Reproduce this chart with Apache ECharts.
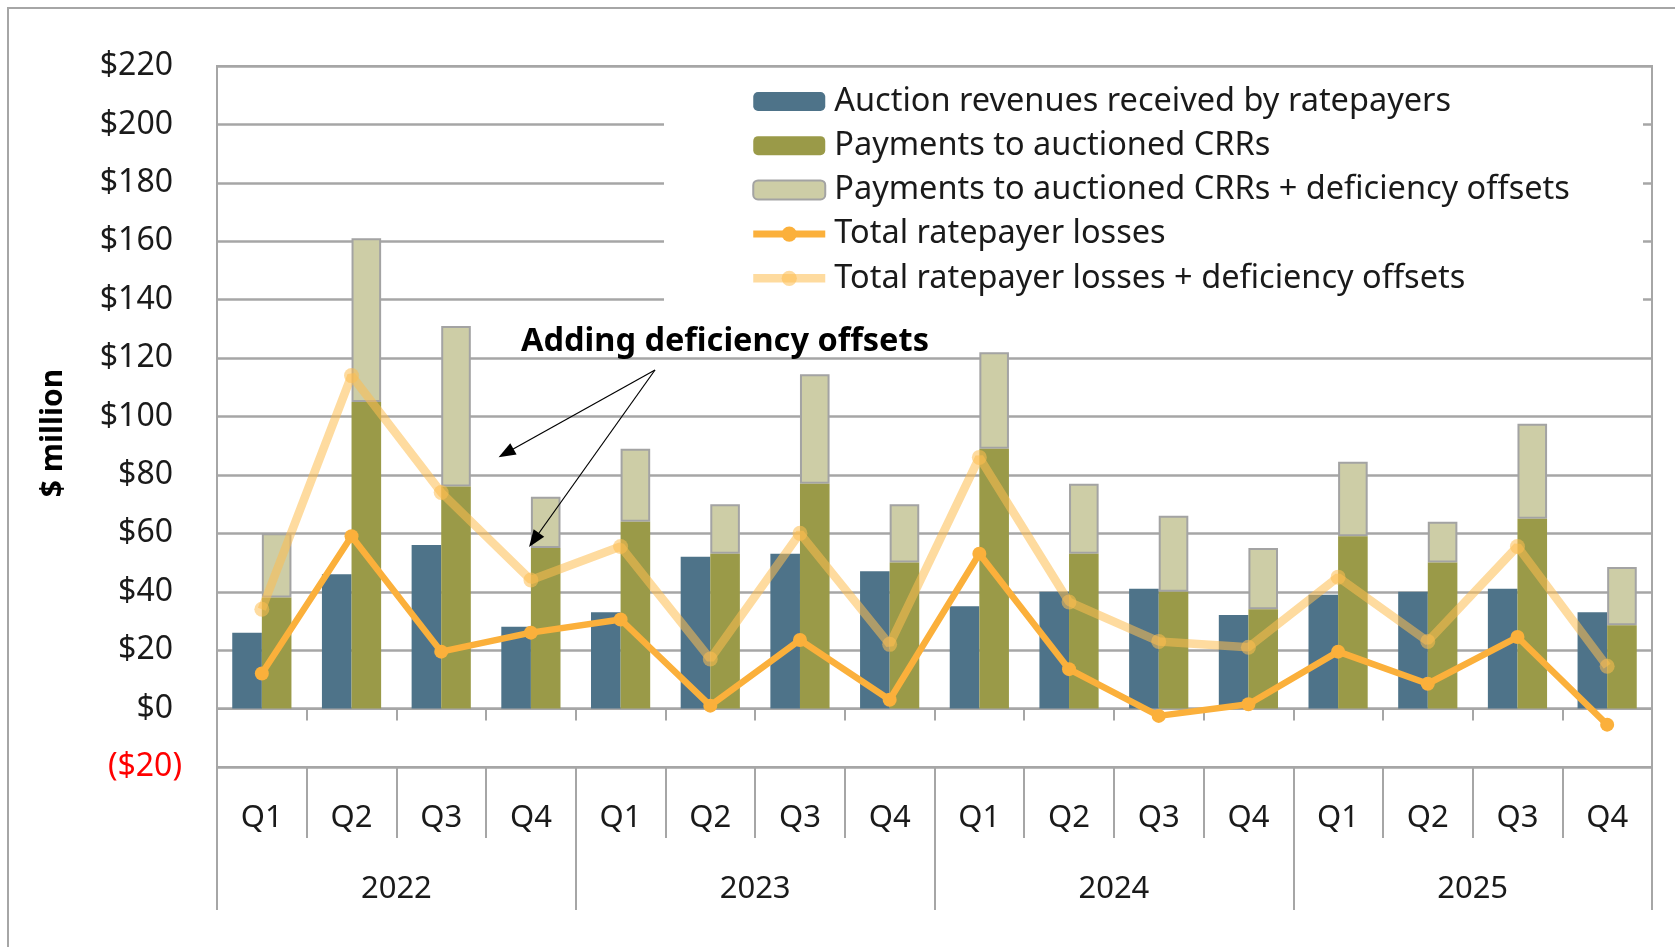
<!DOCTYPE html>
<html>
<head>
<meta charset="utf-8">
<title>CRR auction revenues and ratepayer losses</title>
<script src="https://cdn.jsdelivr.net/npm/echarts@6/dist/echarts.min.js"></script>
<style>
html, body { margin: 0; padding: 0; background: #fff; }
#chart { width: 1675px; height: 947px; }
</style>
</head>
<body>
<div id="chart"></div>
<script>
var years = ['2022', '2023', '2024', '2025'];
var quarters = ['Q1', 'Q2', 'Q3', 'Q4'];

// $ million, one value per quarter 2022 Q1 .. 2025 Q4
var auctionRevenues = [26, 46, 56, 28, 33, 52, 53, 47, 35, 40, 41, 32, 39, 40, 41, 33];
var crrPayments = [38, 105, 76, 55, 64, 53, 77, 50, 89, 53, 40, 34, 59, 50, 65, 28.5];
var crrPaymentsWithOffsets = [60, 161, 131, 72.5, 89, 70, 114.5, 70, 122, 77, 66, 55, 84.5, 64, 97.5, 48.5];
var ratepayerLosses = [12, 59, 19.5, 26, 30.5, 1, 23.5, 3, 53, 13.5, -2.5, 1.5, 19.5, 8.5, 24.5, -5.5];
var lossesWithOffsets = [34, 114, 74, 44, 55.5, 17, 60, 22, 86, 36.5, 23, 21, 45, 23, 55.5, 14.5];

var FONT = '"Noto Sans", "Open Sans", sans-serif';
var GRID_GRAY = '#a6a6a6';
var TEXT = '#1a1a1a';
var ORANGE = '#fbb03b';
var ORANGE_LIGHT = 'rgba(253,190,80,0.55)';

var quarterLabels = [];
years.forEach(function () {
  quarters.forEach(function (q) { quarterLabels.push(q); });
});

// light bar is drawn as the part stacked on top of the CRR payments
var offsetPart = crrPaymentsWithOffsets.map(function (v, i) {
  return Math.round((v - crrPayments[i]) * 10) / 10;
});

var chart = echarts.init(document.getElementById('chart'));

var option = {
  animation: false,
  backgroundColor: '#fff',
  grid: {
    left: 217, right: 23, top: 66, bottom: 180,
    show: true, borderColor: GRID_GRAY, borderWidth: 2
  },
  legend: {
    orient: 'vertical',
    left: 749,
    top: 85,
    padding: 0,
    itemWidth: 72,
    itemHeight: 19,
    itemGap: 11.2,
    textStyle: { fontFamily: FONT, fontSize: 32.5, lineHeight: 32, color: TEXT, padding: [0, 0, 0, 4] },
    data: [
      { name: 'Auction revenues received by ratepayers' },
      { name: 'Payments to auctioned CRRs' },
      { name: 'Payments to auctioned CRRs + deficiency offsets' },
      { name: 'Total ratepayer losses', lineStyle: { width: 7, color: ORANGE } },
      { name: 'Total ratepayer losses + deficiency offsets', lineStyle: { width: 8.5, color: ORANGE_LIGHT } }
    ]
  },
  xAxis: [
    {
      type: 'category',
      data: quarterLabels,
      position: 'bottom',
      axisLine: { show: true, onZero: false, lineStyle: { color: GRID_GRAY, width: 2 } },
      axisTick: { show: true, length: 71, interval: 0, lineStyle: { color: GRID_GRAY, width: 2 } },
      axisLabel: { interval: 0, margin: 36, fontFamily: FONT, fontSize: 31, color: TEXT },
      splitLine: { show: false }
    },
    {
      type: 'category',
      data: years,
      position: 'bottom',
      axisLine: { show: false, onZero: false },
      axisTick: { show: true, length: 143, interval: 0, lineStyle: { color: GRID_GRAY, width: 2 } },
      axisLabel: { interval: 0, margin: 107, fontFamily: FONT, fontSize: 31, color: TEXT },
      splitLine: { show: false }
    },
    {
      // short ticks hanging off the $0 line
      type: 'category',
      data: quarterLabels,
      position: 'bottom',
      axisLine: { show: true, onZero: true, lineStyle: { color: GRID_GRAY, width: 2 } },
      axisTick: { show: true, length: 12, interval: 0, lineStyle: { color: GRID_GRAY, width: 2 } },
      axisLabel: { show: false },
      splitLine: { show: false }
    }
  ],
  yAxis: {
    type: 'value',
    min: -20,
    max: 220,
    interval: 20,
    axisLine: { show: true, lineStyle: { color: GRID_GRAY, width: 2 } },
    axisTick: { show: false },
    splitLine: { show: true, lineStyle: { color: GRID_GRAY, width: 2.5 } },
    axisLabel: {
      margin: 35,
      formatter: function (v) {
        return v < 0 ? '{neg|($' + (-v) + ')}' : '{pos|$' + v + '}';
      },
      rich: {
        pos: { fontFamily: FONT, fontSize: 32, color: TEXT, padding: [0, 9, 0, 0] },
        neg: { fontFamily: FONT, fontSize: 32, color: '#ff0000' }
      }
    }
  },
  graphic: [
    {
      type: 'rect',
      z: 1,
      shape: { x: 8, y: 8, width: 1720, height: 1000 },
      style: { fill: 'none', stroke: GRID_GRAY, lineWidth: 2 }
    },
    {
      // white box behind the legend hides the gridlines
      type: 'rect',
      z: 1,
      shape: { x: 664, y: 76, width: 979, height: 238 },
      style: { fill: '#fff' }
    },
    {
      type: 'text',
      z: 10,
      x: 53,
      y: 433,
      rotation: Math.PI / 2,
      style: {
        text: '$ million',
        fontFamily: FONT, fontSize: 30, fontWeight: 'bold', fill: '#000',
        align: 'center', verticalAlign: 'middle'
      }
    },
    {
      type: 'text',
      z: 10,
      x: 521,
      y: 342,
      style: {
        text: 'Adding deficiency offsets',
        fontFamily: FONT, fontSize: 32.5, fontWeight: 'bold', fill: '#000',
        align: 'left', verticalAlign: 'middle'
      }
    }
  ],
  series: [
    {
      name: 'Auction revenues received by ratepayers',
      type: 'bar',
      data: auctionRevenues,
      barGap: 0,
      barCategoryGap: '34%',
      itemStyle: { color: '#4e7389' },
      z: 2
    },
    {
      name: 'Payments to auctioned CRRs',
      type: 'bar',
      stack: 'crr',
      data: crrPayments,
      barGap: 0,
      barCategoryGap: '34%',
      itemStyle: { color: '#9a9a48' },
      z: 3
    },
    {
      name: 'Payments to auctioned CRRs + deficiency offsets',
      type: 'bar',
      stack: 'crr',
      data: offsetPart,
      barGap: 0,
      barCategoryGap: '34%',
      itemStyle: { color: '#cdcda6', borderColor: '#a3a3a3', borderWidth: 2 },
      z: 2
    },
    {
      name: 'Total ratepayer losses',
      type: 'line',
      data: ratepayerLosses,
      symbol: 'circle',
      symbolSize: 14,
      itemStyle: { color: ORANGE },
      lineStyle: { color: ORANGE, width: 6.5 },
      z: 5,
      markLine: {
        silent: true,
        symbol: ['none', 'triangle'],
        symbolSize: [13, 17],
        label: { show: false },
        lineStyle: { color: '#000', width: 1.2, type: 'solid' },
        data: [
          [{ x: 655, y: 370 }, { x: 506, y: 453 }],
          [{ x: 655, y: 370 }, { x: 534, y: 540 }]
        ]
      }
    },
    {
      name: 'Total ratepayer losses + deficiency offsets',
      type: 'line',
      data: lossesWithOffsets,
      symbol: 'circle',
      symbolSize: 15,
      itemStyle: { color: ORANGE_LIGHT },
      lineStyle: { color: ORANGE_LIGHT, width: 8.5 },
      z: 4
    }
  ]
};

chart.setOption(option);
</script>
</body>
</html>
